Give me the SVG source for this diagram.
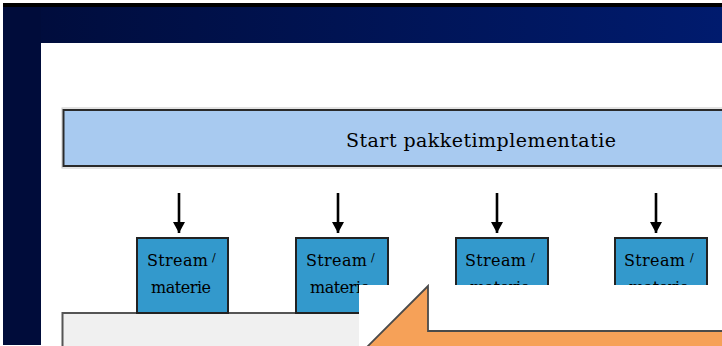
<svg xmlns="http://www.w3.org/2000/svg" width="722" height="346" viewBox="0 0 722 346">
  <defs>
    <linearGradient id="navy" x1="0" y1="0" x2="1" y2="0">
      <stop offset="0" stop-color="#000c3a"/>
      <stop offset="1" stop-color="#001b6e"/>
    </linearGradient>
    <marker id="ah" viewBox="0 0 12 12" refX="11" refY="6" markerWidth="12" markerHeight="12" markerUnits="userSpaceOnUse" orient="auto">
      <path d="M0,0 L11,6 L0,12 Z" fill="#000"/>
    </marker>
    <style>
      .stream { fill: #3399cc; stroke: #222; stroke-width: 2; }
      .stxt { font-family: "DejaVu Serif", "Liberation Serif", serif; font-size: 16px; fill: #000; }
      .conn { stroke: #000; stroke-width: 2.6; fill: none; }
    </style>
  </defs>
  <rect width="722" height="346" fill="#ffffff"/>
  <!-- background frame -->
  <rect x="3" y="3" width="719" height="4" fill="#000"/>
  <rect x="3" y="7" width="719" height="36" fill="url(#navy)"/>
  <rect x="3" y="7" width="38" height="338" fill="#000c3a"/>

  <g id="start-bar">
    <rect x="62" y="108" width="670" height="60" fill="none" stroke="#c8c8c8" stroke-width="1"/>
    <rect x="63.5" y="110" width="670" height="56" fill="#a8caf0" stroke="#2a2a2a" stroke-width="2"/>
    <text x="346" y="147" class="stxt" style="font-size:19px" textLength="270" lengthAdjust="spacing">Start pakketimplementatie</text>
  </g>

  <g id="bottom-panel">
    <rect x="62.5" y="313" width="680" height="50" fill="#f0f0f0" stroke="#555" stroke-width="2"/>
  </g>

  <g id="connectors">
    <line class="conn" x1="179" y1="193" x2="179" y2="233" marker-end="url(#ah)"/>
    <line class="conn" x1="338" y1="193" x2="338" y2="233" marker-end="url(#ah)"/>
    <line class="conn" x1="497" y1="193" x2="497" y2="233" marker-end="url(#ah)"/>
    <line class="conn" x1="656" y1="193" x2="656" y2="233" marker-end="url(#ah)"/>
  </g>

  <g id="stream1">
    <rect class="stream" x="137" y="238" width="91" height="75"/>
    <text class="stxt" x="147" y="266" textLength="61" lengthAdjust="spacing">Stream</text>
    <text class="stxt" x="212" y="261" style="font-size:11px">/</text>
    <text class="stxt" x="151" y="293" textLength="60" lengthAdjust="spacing">materie</text>
  </g>
  <g id="stream2">
    <rect class="stream" x="296" y="238" width="92" height="75"/>
    <text class="stxt" x="306" y="266" textLength="61" lengthAdjust="spacing">Stream</text>
    <text class="stxt" x="371" y="261" style="font-size:11px">/</text>
    <text class="stxt" x="310" y="293" textLength="60" lengthAdjust="spacing">materie</text>
  </g>
  <g id="stream3">
    <rect class="stream" x="456" y="238" width="92" height="75"/>
    <text class="stxt" x="465" y="266" textLength="61" lengthAdjust="spacing">Stream</text>
    <text class="stxt" x="531" y="261" style="font-size:11px">/</text>
    <text class="stxt" x="470" y="293" textLength="60" lengthAdjust="spacing">materie</text>
  </g>
  <g id="stream4">
    <rect class="stream" x="615" y="238" width="92" height="75"/>
    <text class="stxt" x="624" y="266" textLength="61" lengthAdjust="spacing">Stream</text>
    <text class="stxt" x="690" y="261" style="font-size:11px">/</text>
    <text class="stxt" x="629" y="293" textLength="60" lengthAdjust="spacing">materie</text>
  </g>

  <g id="callout">
    <rect x="359" y="285" width="370" height="70" fill="#ffffff"/>
    <polygon points="428,286 428,331 730,331 730,352 362,352" fill="#f6a158" stroke="#4a4a4a" stroke-width="1.8" stroke-linejoin="miter"/>
  </g>
</svg>
